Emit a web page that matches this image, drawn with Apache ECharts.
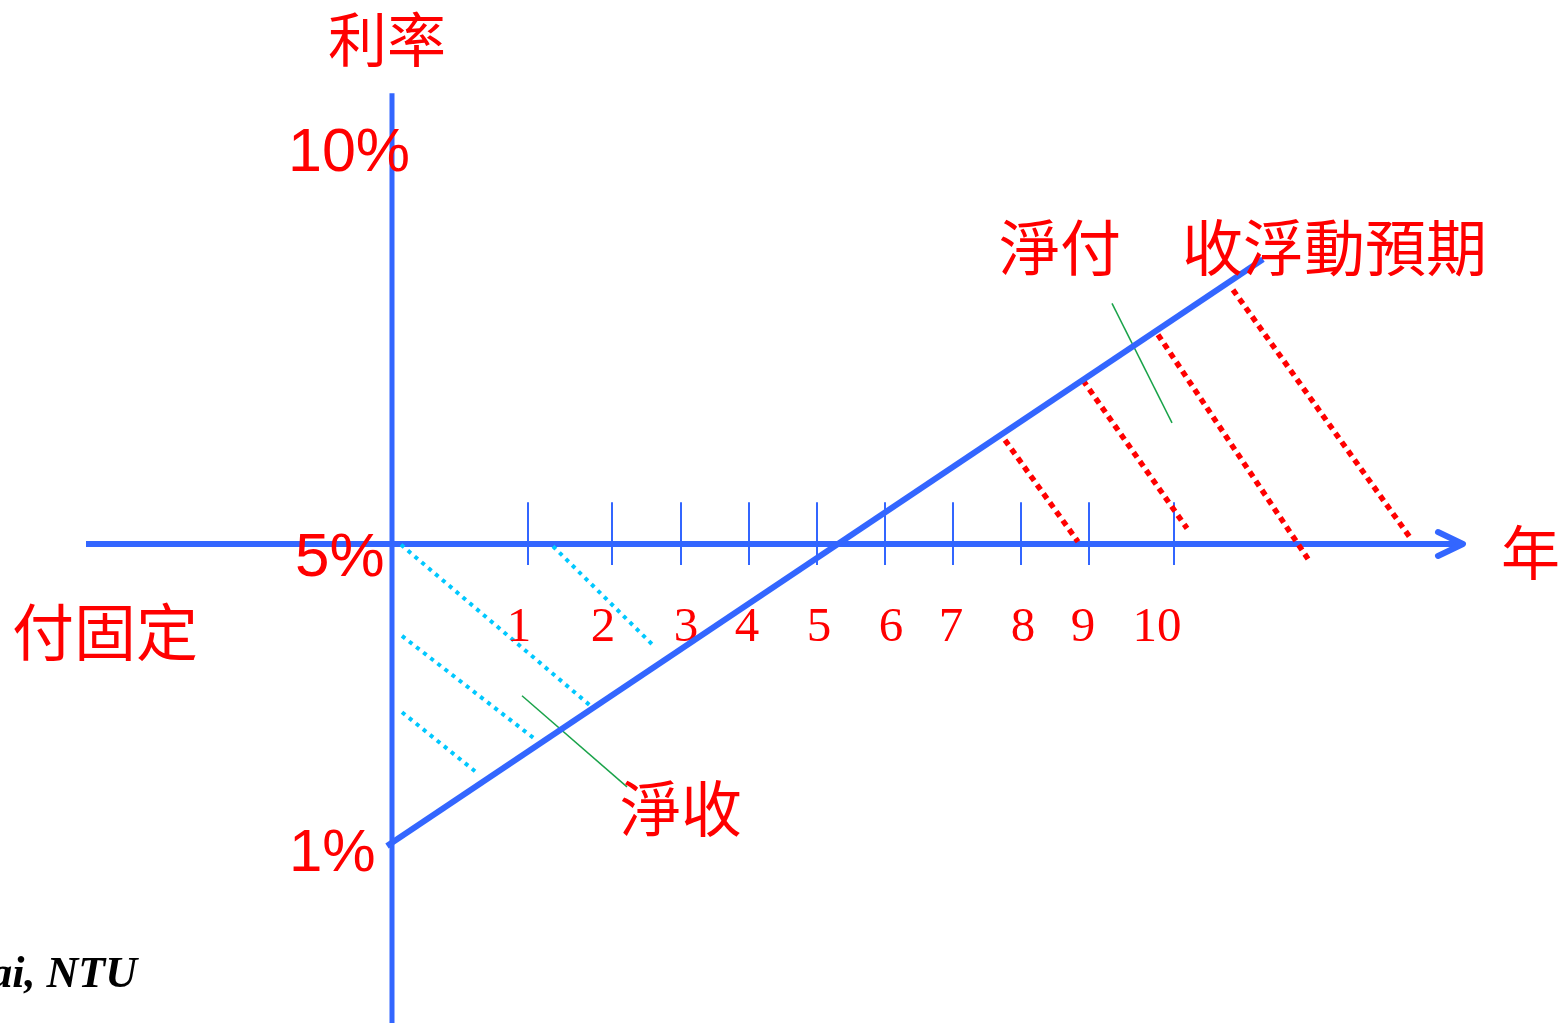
<!DOCTYPE html>
<html>
<head>
<meta charset="utf-8">
<title>利率交換</title>
<script src="https://cdn.jsdelivr.net/npm/echarts@6/dist/echarts.min.js"></script>
<style>
	html,body{margin:0;padding:0;background:#fff;}
	#chart{width:1568px;height:1023px;}
</style>
</head>
<body>
<div id="chart"></div>
<script>
	// x: 時間軸位置 (以縱軸為 0), y: 利率 %
	var tickX = [136, 220, 289, 357, 425, 493, 561, 629, 697, 782];
	var tickLabels = ['1', '2', '3', '4', '5', '6', '7', '8', '9', '10'];
	var tickLabelX = [127, 211, 294, 355, 427, 499, 559, 631, 691, 765];
	var tickLabelRate = 3.87;
	var tickRate = [5.56, 4.72];

	// 浮動利率預期曲線
	var floatLine = [[-5, 0.96], [871, 8.81]];
	// 淨收 (藍點線)
	var netReceive = [
		[[9, 4.99], [199, 2.83]],
		[[161, 4.97], [263, 3.62]],
		[[10, 3.77], [143, 2.39]],
		[[10, 2.75], [83, 1.96]]
	];
	// 淨付 (紅點線)
	var netPay = [
		[[613, 6.39], [686, 5.03]],
		[[691, 7.19], [795, 5.21]],
		[[766, 7.80], [916, 4.80]],
		[[841, 8.40], [1020, 5.05]]
	];
	// 引線
	var leaders = [
		[[130, 2.97], [235, 1.75]],
		[[720, 8.22], [780, 6.62]]
	];
	var fixedRate = 5;
	var yAxisLine = [[0, 11.03], [0, -1.5]];
	var xAxisLine = [[-306, fixedRate], [1071, fixedRate]];
	var arrowHead = [[1046, 5.16], [1071, 5], [1046, 4.84]];

	var BLUE = '#3366FF', RED = '#FF0000', CYAN = '#00C8FF', GREEN = '#1AA34A';
	var CJK = '"Noto Sans CJK TC","Noto Sans CJK SC",sans-serif';
	var SANS = '"Liberation Sans",Arial,sans-serif';
	var PX_PER_PCT = 74.75;

	function seg(data, color, width, type, cap){
		return {
			type: 'line', data: data, symbol: 'none', silent: true,
			lineStyle: {color: color, width: width, type: type || 'solid', cap: cap || 'butt', join: 'round', opacity: 1},
			z: 2
		};
	}

	var series = [];
	series.push(seg(yAxisLine, BLUE, 5));
	series.push(seg(xAxisLine, BLUE, 6));
	series.push(seg(arrowHead, BLUE, 6, 'solid', 'round'));
	tickX.forEach(function(x){
		series.push(seg([[x, tickRate[0]], [x, tickRate[1]]], BLUE, 2));
	});
	netReceive.forEach(function(d){ series.push(seg(d, CYAN, 4, [4, 5])); });
	netPay.forEach(function(d){ series.push(seg(d, RED, 5.5, [6, 5])); });
	leaders.forEach(function(d){ series.push(seg(d, GREEN, 1.5)); });
	var fl = seg(floatLine, BLUE, 6);
	fl.z = 3;
	series.push(fl);
	// 年份刻度標籤
	series.push({
		type: 'scatter', symbolSize: 0, silent: true,
		itemStyle: {opacity: 1},
		data: tickLabelX.map(function(x, i){ return {value: [x, tickLabelRate], name: tickLabels[i]}; }),
		label: {
			show: true, position: 'inside', formatter: '{b}', opacity: 1,
			color: RED, fontFamily: '"Liberation Serif","Times New Roman",serif', fontSize: 49
		}
	});

	function txt(str, x, y, size, font, extra){
		var s = {text: str, fill: RED, font: size + 'px ' + font, textVerticalAlign: 'middle'};
		for (var k in extra) s[k] = extra[k];
		return {type: 'text', x: x, y: y, style: s, z: 10};
	}

	var chart = echarts.init(document.getElementById('chart'));
	chart.setOption({
		animation: false,
		backgroundColor: '#fff',
		grid: {left: 0, right: 0, top: 0, bottom: 0},
		xAxis: {type: 'value', min: -392, max: 1176, show: false},
		yAxis: {type: 'value', min: fixedRate - 479 / PX_PER_PCT, max: fixedRate + 544 / PX_PER_PCT, show: false},
		series: series,
		graphic: [
			txt('利率', 328, 40, 59, CJK),
			txt('淨付　收浮動預期', 999, 248, 61, CJK),
			txt('付固定', 12, 632, 62, CJK),
			txt('淨收', 620, 809, 61, CJK),
			txt('年', 1501, 553, 59, CJK),
			txt('10%', 288, 154, 61, SANS),
			txt('5%', 295, 559, 62, SANS),
			txt('1%', 289, 854, 60, SANS),
			txt('Tsai, NTU', 137, 976, 44, SANS, {fill: '#000', font: 'italic bold 44px "Liberation Serif",serif', textAlign: 'right'})
		]
	});
</script>
</body>
</html>
